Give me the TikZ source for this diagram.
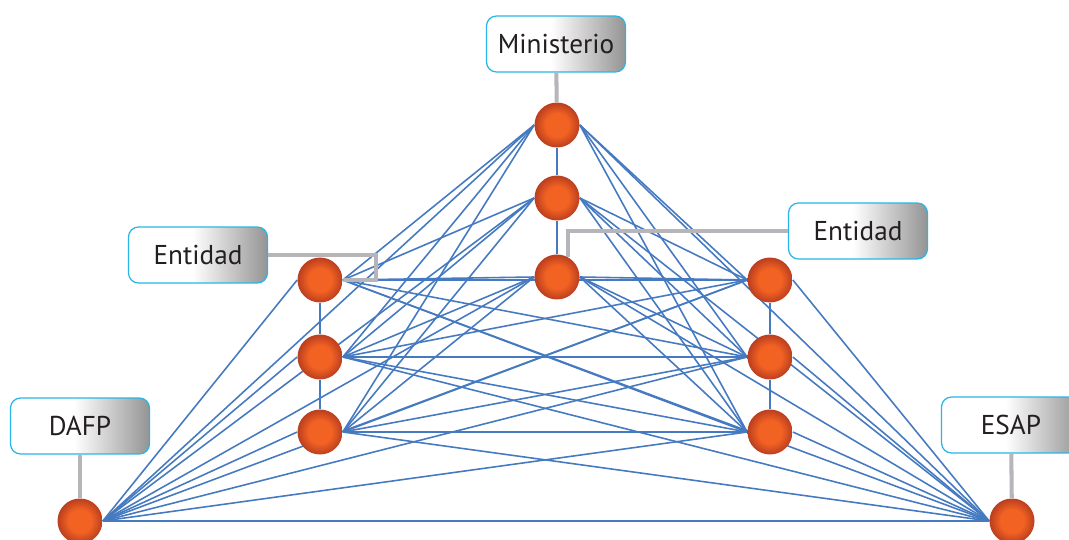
\documentclass[tikz,border=0pt]{standalone}
\usepackage{fontspec}
\setmainfont{PT Sans}
\usetikzlibrary{shapes, arrows}
\usetikzlibrary{backgrounds}

\definecolor{netblue}{RGB}{70,122,192}
\definecolor{orbin}{RGB}{242,98,34}
\definecolor{orbout}{RGB}{186,62,32}
\definecolor{tagcyan}{RGB}{40,182,232}
\definecolor{stemgray}{RGB}{182,182,186}
\definecolor{tagtext}{RGB}{35,31,32}

\pgfdeclareradialshading{orb}{\pgfpoint{0bp}{0bp}}{color(0bp)=(orbin); color(13bp)=(orbin); color(25bp)=(orbout); color(50bp)=(orbout)}
\pgfdeclarehorizontalshading{tagshade}{100bp}{color(0bp)=(white); color(48bp)=(white); color(75bp)=(black!42); color(100bp)=(black!42)}

\begin{document}
\begin{tikzpicture}[x=0.02cm, y=-0.02cm, auto]
    \tikzstyle{ball} = [circle, inner sep=0pt, minimum size=0.9cm, shade,
    shading=orb]
    \tikzstyle{tag} = [rectangle, draw=tagcyan, line width=0.7pt, shade,
    shading=tagshade, rounded corners=0.2cm, minimum width=2.78cm,
    minimum height=1.12cm, text=tagtext, font=\fontsize{15.5}{18}\selectfont]
    \tikzstyle{line} = [draw, netblue, line width=0.9pt]
    \tikzstyle{stem} = [draw, stemgray, line width=2.3pt]
    \useasboundingbox (0,0) rectangle (1069,540);
    % the points of the net
    \node [ball] (M1) at (557,125) {};
    \node [ball] (M2) at (557,198) {};
    \node [ball] (M3) at (557,277) {};
    \node [ball] (L1) at (320,280) {};
    \node [ball] (L2) at (320,357) {};
    \node [ball] (L3) at (320,432) {};
    \node [ball] (R1) at (770,280) {};
    \node [ball] (R2) at (770,357) {};
    \node [ball] (R3) at (770,432) {};
    \node [ball] (D) at (80,521) {};
    \node [ball] (E) at (1012,521) {};
    % labels
    \node [tag] (tMin) at (556,44) {Ministerio};
    \node [tag] (tEntL) at (198,255) {Entidad};
    \node [tag] (tEntR) at (858,231) {Entidad};
    \node [tag] (tDafp) at (80,426) {DAFP};
    \node [tag] (tEsap) at (1011,425) {ESAP};
    \coordinate (bendL) at (376,280);
    \path [stem] (tMin) -- (M1);
    \path [stem] (tDafp) -- (D);
    \path [stem] (tEsap) -- (E);
    \path [stem] (tEntL.east) -| (bendL) -- (L1.east);
    \path [stem] (tEntR.west) -| (M3.60);
    % the net itself, behind the points
    \begin{scope}[on background layer]
    \path [line] (D.east) edge (L1.west) edge (L2.west) edge (L3.west)
    edge (M1.west) edge (M2.west) edge (M3.west) edge (R1.west)
    edge (R2.west) edge (R3.west) edge (E.west);
    \path [line] (L1.east) edge (M1.west) edge (M2.west) edge (M3.west)
    edge (R1.west) edge (R2.west) edge (R3.west) edge (E.west);
    \path [line] (L2.east) edge (M1.west) edge (M2.west) edge (M3.west)
    edge (R1.west) edge (R2.west) edge (R3.west) edge (E.west);
    \path [line] (L3.east) edge (M1.west) edge (M2.west) edge (M3.west)
    edge (R1.west) edge (R2.west) edge (R3.west) edge (E.west);
    \path [line] (M1.east) edge (R1.west) edge (R2.west) edge (R3.west)
    edge (E.west);
    \path [line] (M2.east) edge (R1.west) edge (R2.west) edge (R3.west)
    edge (E.west);
    \path [line] (M3.east) edge (R1.west) edge (R2.west) edge (R3.west)
    edge (E.west);
    \path [line] (R1.east) edge (E.west);
    \path [line] (R2.east) edge (E.west);
    \path [line] (R3.east) edge (E.west);
    \path [line] (M1) -- (M2) -- (M3);
    \path [line] (L1) -- (L2) -- (L3);
    \path [line] (R1) -- (R2) -- (R3);
    \end{scope}
\end{tikzpicture}
\end{document}
